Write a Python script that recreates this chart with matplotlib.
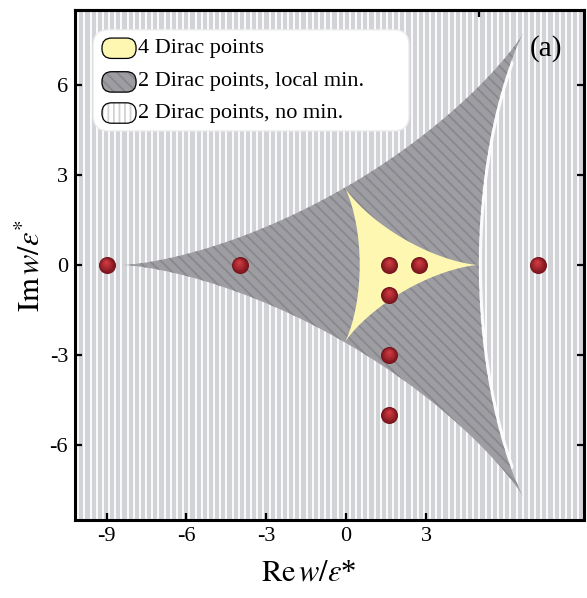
"""
Phase diagram in the complex w plane: deltoid regions with 4 / 2 Dirac points.
"""
import numpy as np
import matplotlib
matplotlib.use("Agg")
import matplotlib.pyplot as plt
import matplotlib.colors as mcolors
import matplotlib.transforms as mtransforms
from matplotlib.patches import Polygon, FancyBboxPatch

plt.rcParams["font.family"] = ["Liberation Serif", "DejaVu Serif"]
plt.rcParams["mathtext.fontset"] = "stix"
plt.rcParams["hatch.linewidth"] = 1.3

# --- data (read against the printed tick labels) ---
center = (1.63, 0.0)
outer_radius = (10.07, 8.93)   # deltoid, cusps pointing left / up-right / down-right
inner_radius = (3.36, 2.98)    # deltoid, cusps pointing right / up-left / down-left

dot_x = [-9.0, -4.0, 1.63, 2.75, 1.63, 1.63, 1.63, 7.2]
dot_y = [0.0, 0.0, 0.0, 0.0, -1.0, -3.0, -5.0, 0.0]

xticks = [-9, -6, -3, 0, 3]
yticks = [-6, -3, 0, 3, 6]
top_ticks = [5.0]
legend_labels = ["4 Dirac points", "2 Dirac points, local min.", "2 Dirac points, no min."]

# colours
c_stripe = "#d2d3d6"
c_gray = "#9d9da2"
c_gray_hatch = "#88888e"
c_yellow = "#fdf7b2"


def deltoid(c, r, sign, t=None):
    if t is None:
        t = np.linspace(0, 2 * np.pi, 600)
    z = sign * (2 * np.exp(1j * t) + np.exp(-2j * t)) / 3.0
    return np.column_stack([c[0] + r[0] * z.real, c[1] + r[1] * z.imag])


def draw_spheres(ax, fig, xs, ys, diam_px=17, layers=8):
    dark = np.array(mcolors.to_rgb("#72121a"))
    light = np.array(mcolors.to_rgb("#d23a42"))
    for i in range(layers):
        f = 1 - i / layers
        col = dark + (light - dark) * (i / (layers - 1)) ** 0.8
        shift = (1 - f) * diam_px * 0.2
        tr = mtransforms.offset_copy(ax.transData, fig=fig, x=-shift * 0.3, y=shift,
                                     units="dots")
        ax.scatter(xs, ys, s=(diam_px * f * 0.72) ** 2, color=col, linewidths=0,
                   transform=tr, zorder=6 + i)


fig = plt.figure(figsize=(5.87, 5.98), dpi=100)
ax = fig.add_axes([75 / 587, 1 - 520 / 598, 509 / 587, 510 / 598])
ax.set_xlim(-10.19, 8.94)
ax.set_ylim(-8.5, 8.5)

# background: vertical stripes
ax.set_facecolor(c_stripe)
ax.vlines(np.arange(-10.3, 9.0, 0.232), -8.5, 8.5, colors="white", linewidth=1.3, zorder=0)

# thin white band along the concave right side of the outer deltoid
band = deltoid(center, outer_radius, -1, np.linspace(0.78 * np.pi, 1.22 * np.pi, 200))
ax.plot(band[:, 0], band[:, 1], color="white", linewidth=4.5, solid_capstyle="round",
        alpha=0.9, zorder=1)

outer = Polygon(deltoid(center, outer_radius, -1), closed=True, facecolor=c_gray,
                edgecolor=c_gray_hatch, hatch="\\\\\\", linewidth=0, zorder=2)
ax.add_patch(outer)
inner = Polygon(deltoid(center, inner_radius, 1), closed=True, facecolor=c_yellow,
                edgecolor="none", linewidth=0, zorder=3)
ax.add_patch(inner)

draw_spheres(ax, fig, dot_x, dot_y)

# legend box
ax.add_patch(FancyBboxPatch((0.036, 0.763), 0.62, 0.198,
                            boxstyle="round,pad=0,rounding_size=0.03",
                            transform=ax.transAxes, facecolor="white",
                            edgecolor="#eeeeee", linewidth=1, zorder=20))
row_y = [0.925, 0.859, 0.798]
pill_x, pill_w, pill_h = 0.053, 0.067, 0.04
styles = [
    dict(facecolor=c_yellow, hatch=None, edgecolor=c_yellow),
    dict(facecolor=c_gray, hatch="\\\\\\", edgecolor=c_gray_hatch),
    dict(facecolor="white", hatch="|||", edgecolor=c_stripe),
]
for y, lab, st in zip(row_y, legend_labels, styles):
    box = (pill_x, y - pill_h / 2)
    ax.add_patch(FancyBboxPatch(box, pill_w, pill_h,
                                boxstyle="round,pad=0,rounding_size=0.019",
                                transform=ax.transAxes, linewidth=0, zorder=21, **st))
    ax.add_patch(FancyBboxPatch(box, pill_w, pill_h,
                                boxstyle="round,pad=0,rounding_size=0.019",
                                transform=ax.transAxes, facecolor="none",
                                edgecolor="black", linewidth=0.9, zorder=22))
    ax.text(pill_x + pill_w + 0.004, y, lab, transform=ax.transAxes, fontsize=16,
            va="center", ha="left", zorder=23)

ax.text(0.925, 0.925, "(a)", transform=ax.transAxes, fontsize=21, ha="center",
        va="center", zorder=23)

# axes styling
ax.set_xticks(xticks)
ax.set_yticks(yticks)
ax.set_xticklabels([str(v) for v in xticks])
ax.set_yticklabels([str(v) for v in yticks])
ax.tick_params(direction="in", length=5, width=1.6, labelsize=16, right=True, pad=5)
for sp in ax.spines.values():
    sp.set_linewidth(2.2)
    sp.set_zorder(30)

top = ax.secondary_xaxis("top")
top.set_xticks(top_ticks)
top.set_xticklabels([])
top.tick_params(direction="in", length=5, width=1.6)
top.spines["top"].set_linewidth(2.2)

ax.set_xlabel(r"$\mathrm{Re}\,w/\varepsilon$*", fontsize=22)
ax.xaxis.set_label_coords(0.46, -0.075)
ax.set_ylabel(r"$\mathrm{Im}\,w/\varepsilon^{*}$", fontsize=22, labelpad=2)

fig.savefig("out.png", dpi=100)
